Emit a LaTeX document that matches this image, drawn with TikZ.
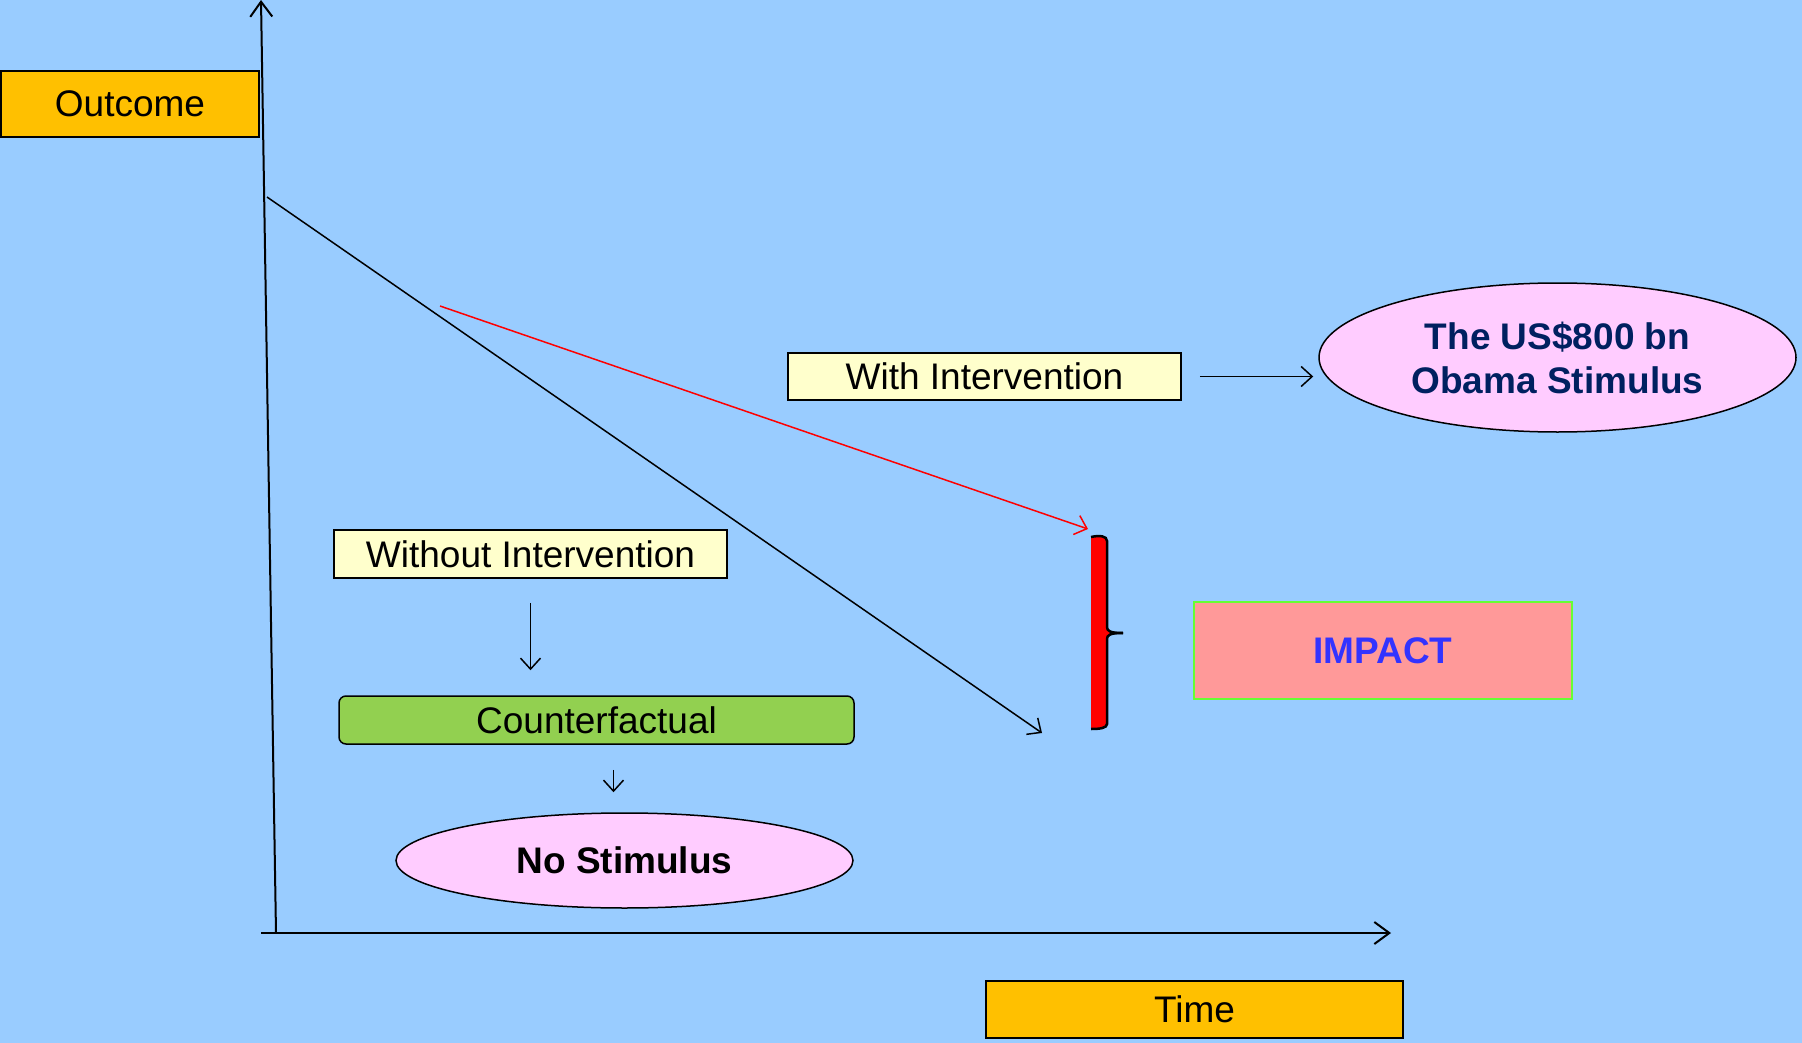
\documentclass[tikz,border=0pt]{standalone}
\usepackage{fontspec}
\setmainfont{Liberation Sans}
\usetikzlibrary{arrows.meta,shapes.geometric}
\definecolor{bg}{HTML}{99CCFF}
\definecolor{gold}{HTML}{FFC000}
\definecolor{lightyel}{HTML}{FFFFCC}
\definecolor{cfgreen}{HTML}{92D050}
\definecolor{pinkell}{HTML}{FFCCFF}
\definecolor{impfill}{HTML}{FF9999}
\definecolor{impborder}{HTML}{66FF33}
\definecolor{impblue}{HTML}{3333FF}
\definecolor{navy}{HTML}{002060}
\begin{document}
\begin{tikzpicture}[x=1pt,y=-1pt,
  txt/.style={font=\fontsize{37}{42}\selectfont, inner sep=0pt, align=center},
  goldbox/.style={txt, draw=black, line width=2.5pt, fill=gold},
  yelbox/.style={txt, draw=black, line width=1.5pt, fill=lightyel},
  ellbox/.style={ellipse, draw=black, line width=1.5pt, fill=pinkell, inner sep=0pt, font=\fontsize{37}{44}\selectfont\bfseries, align=center},
  thin/.style={line width=1.5pt},
  arr/.style={thin, -{Straight Barb[length=11pt,width=20pt,line width=1.5pt]}},
  axarr/.style={line width=2pt, -{Straight Barb[length=15pt,width=22pt,line width=2pt]}}
]
\useasboundingbox[fill=bg] (0,0) rectangle (1802,1043);

% axes
\coordinate (ybot) at (276,933);
\coordinate (ytop) at (261,0);
\coordinate (xleft) at (261,933);
\coordinate (xright) at (1391,933);
\draw[axarr] (ybot) -- (ytop);
\draw[axarr] (xleft) -- (xright);

% labels
\node[goldbox, minimum width=258pt, minimum height=66pt] (outcome) at (130,104) {Outcome};
\node[goldbox, minimum width=417pt, minimum height=57pt] (time) at (1194.5,1009.5) {Time};

% trend lines
\coordinate (dstart) at (267,197);
\coordinate (dend) at (1042,733);
\draw[arr] (dstart) -- (dend);
\coordinate (rstart) at (440,306);
\coordinate (rend) at (1088,529);
\draw[arr, red] (rstart) -- (rend);

% brace
\path[fill=red] (1091,537) .. controls (1100,535) and (1107,536) .. (1107,541) -- (1107,627)
  .. controls (1107,631) and (1110,633) .. (1123,633) .. controls (1110,633) and (1107,635) .. (1107,639)
  -- (1107,724) .. controls (1107,728) and (1100,729) .. (1091,729) -- cycle;
\draw[line width=2.5pt] (1091,537) .. controls (1100,535) and (1107,536) .. (1107,541) -- (1107,627)
  .. controls (1107,631) and (1110,633) .. (1123,633);
\draw[line width=2.5pt] (1123,633) .. controls (1110,633) and (1107,635) .. (1107,639)
  -- (1107,724) .. controls (1107,728) and (1100,729) .. (1091,729);

% with intervention
\node[yelbox, minimum width=393pt, minimum height=47pt] (wi) at (984.5,376.5) {With Intervention};
\node[ellbox, text=navy, minimum width=477pt, minimum height=149pt] (obama) at (1557.5,357.5) {The US\$800 bn\\Obama Stimulus};
\draw[arr, shorten <=18pt, shorten >=5pt] (wi.east) -- (wi.east -| obama.west);

% without intervention
\node[yelbox, minimum width=393pt, minimum height=48pt] (wo) at (530.5,554) {Without Intervention};
\node[txt, draw=black, line width=1.5pt, fill=cfgreen, rounded corners=7pt, minimum width=515pt, minimum height=48pt] (cf) at (596.5,720) {Counterfactual};
\node[ellbox, text=black, minimum width=457pt, minimum height=95pt] (ns) at (624.5,860.5) {No Stimulus};
\draw[arr, shorten <=24pt, shorten >=25pt] (wo.south) -- (wo.south |- cf.north);
\draw[arr, shorten <=25pt, shorten >=20pt] ([xshift=17pt]cf.south) -- ([xshift=17pt]cf.south |- ns.north);

% impact
\node[txt, draw=impborder, line width=2.5pt, fill=impfill, text=impblue, font=\fontsize{37}{42}\selectfont\bfseries, minimum width=378pt, minimum height=97pt] (impact) at (1383,650.5) {IMPACT};
\end{tikzpicture}
\end{document}
